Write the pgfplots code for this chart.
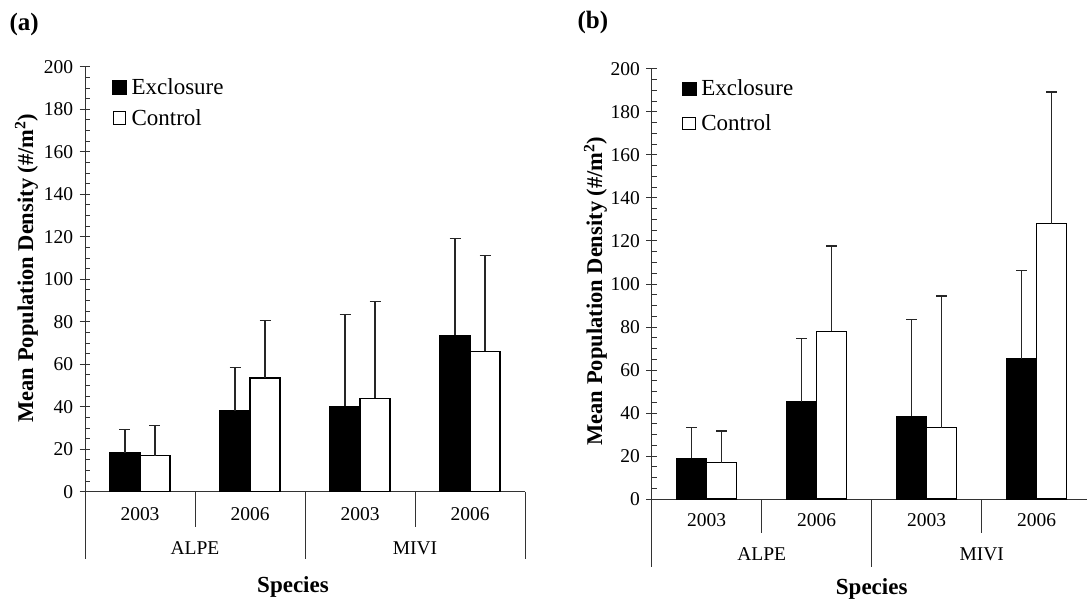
\documentclass[border=0pt]{standalone}
\usepackage{fontspec}
\setmainfont{Liberation Serif}
\usepackage{pgfplots}
\pgfplotsset{compat=1.18}
\usepackage{pgfplotstable}

% x, exclosure mean, exclosure +error, control mean, control +error
\pgfplotstableread{
x   ex    exerr co    coerr
0.5 18.4  10.8  17.0  14.2
1.5 38.2  20.3  53.5  27.2
2.5 40.1  43.4  44.0  45.5
3.5 73.6  45.7  66.1  45.1
}\dataA
\pgfplotstableread{
x   ex    exerr co    coerr
0.5 18.9  14.2  16.9  14.7
1.5 45.2  29.4  78.0  39.7
2.5 38.5  44.9  33.1  61.3
3.5 65.3  40.9  128.0 61.3
}\dataB

\tikzset{
  ticklab/.style={font=\fontsize{19.5}{19.5}\selectfont},
  sep/.style={black!80, line width=1pt},
  speclab/.style={font=\bfseries\fontsize{23}{23}\selectfont},
  ylab/.style={rotate=90, anchor=base, font=\bfseries\fontsize{22.5}{22.5}\selectfont},
  paneltitle/.style={anchor=west, font=\bfseries\fontsize{25}{25}\selectfont},
}
\pgfplotsset{
  panel/.style={
    scale only axis, width=440pt,
    xmin=0, xmax=4, ymin=0, ymax=200,
    axis lines=left, axis line style={-, black!80, line width=1pt},
    ybar=0pt, bar width=30pt,
    xtick=\empty, ytick={0,20,...,200}, minor y tick num=3,
    tick align=center, major tick length=10.5pt, minor tick length=5pt,
    every minor tick/.append style={xshift=2.5pt},
    tick style={black!80, line width=0.9pt},
    yticklabel style={font=\fontsize{19.5}{19.5}\selectfont, xshift=-3pt},
    /pgf/number format/assume math mode=true,
    clip=false, anchor=south west,
    legend style={draw=none, fill=none, at={(0,1)}, anchor=north west,
      inner sep=0pt, nodes={inner sep=0.12em},
      font=\fontsize{23}{23}\selectfont,
      /tikz/every odd column/.append style={column sep=4pt},
      cells={anchor=west}},
  },
  exbar/.style={fill=black, draw=black, line width=1.2pt,
    legend image code/.code={\filldraw[draw=black, fill=black, line width=0.6pt] (0pt,-6.6pt) rectangle (13.6pt,6.6pt);},
    error bars/.cd, y dir=plus, y explicit,
    error bar style={line width=1.3pt, black!85},
    error mark options={rotate=90, line width=1.3pt, mark size=5.5pt, black!85}},
  cobar/.style={fill=white, draw=black, line width=1.2pt,
    legend image code/.code={\filldraw[draw=black, fill=white, line width=1pt] (0.5pt,-6.3pt) rectangle (13.1pt,6.3pt);},
    error bars/.cd, y dir=plus, y explicit,
    error bar style={line width=1.3pt, black!85},
    error mark options={rotate=90, line width=1.3pt, mark size=5.5pt, black!85}},
}

\begin{document}
\begin{tikzpicture}
\useasboundingbox (0,0) rectangle (1087pt,-598pt);

% ---------------- panel (a)
\node[paneltitle] at (6pt,-24pt) {(a)};
\begin{axis}[panel, height=425pt, at={(85pt,-491.7pt)},
  legend style={xshift=27pt, yshift=-10.5pt, row sep=11pt}]
  \addplot[exbar] table[x=x, y=ex, y error=exerr] {\dataA};
  \addplot[cobar] table[x=x, y=co, y error=coerr] {\dataA};
  \legend{Exclosure, Control}
  \draw[sep] (axis cs:1,0) -- ++(0,-35pt);
  \draw[sep] (axis cs:3,0) -- ++(0,-35pt);
  \draw[sep] (axis cs:0,0) -- ++(0,-67.6pt);
  \draw[sep] (axis cs:2,0) -- ++(0,-67.6pt);
  \draw[sep] (axis cs:4,0) -- ++(0,-67.6pt);
  \node[ticklab] at ([yshift=-22pt]axis cs:0.5,0) {2003};
  \node[ticklab] at ([yshift=-22pt]axis cs:1.5,0) {2006};
  \node[ticklab] at ([yshift=-22pt]axis cs:2.5,0) {2003};
  \node[ticklab] at ([yshift=-22pt]axis cs:3.5,0) {2006};
  \node[ticklab] at ([yshift=-56.3pt]axis cs:1,0) {ALPE};
  \node[ticklab] at ([yshift=-56.3pt]axis cs:3,0) {MIVI};
  \node[speclab] at ([xshift=-12pt, yshift=-95pt]axis cs:2,0) {Species};
\end{axis}
\node[ylab] at (33pt,-268pt) {Mean Population Density (\#/m\textsuperscript{2})};

% ---------------- panel (b)
\node[paneltitle] at (574pt,-22pt) {(b)};
\begin{axis}[panel, height=430.1pt, at={(651.7pt,-499pt)},
  legend style={xshift=30pt, yshift=-9.5pt, row sep=15pt}]
  \addplot[exbar] table[x=x, y=ex, y error=exerr] {\dataB};
  \addplot[cobar] table[x=x, y=co, y error=coerr] {\dataB};
  \legend{Exclosure, Control}
  \draw[sep] (axis cs:1,0) -- ++(0,-34.3pt);
  \draw[sep] (axis cs:3,0) -- ++(0,-34.3pt);
  \draw[sep] (axis cs:0,0) -- ++(0,-68.3pt);
  \draw[sep] (axis cs:2,0) -- ++(0,-68.3pt);
  \node[ticklab] at ([yshift=-21pt]axis cs:0.5,0) {2003};
  \node[ticklab] at ([yshift=-21pt]axis cs:1.5,0) {2006};
  \node[ticklab] at ([yshift=-21pt]axis cs:2.5,0) {2003};
  \node[ticklab] at ([yshift=-21pt]axis cs:3.5,0) {2006};
  \node[ticklab] at ([yshift=-55pt]axis cs:1,0) {ALPE};
  \node[ticklab] at ([yshift=-55pt]axis cs:3,0) {MIVI};
  \node[speclab] at ([yshift=-90pt]axis cs:2,0) {Species};
\end{axis}
\node[ylab] at (602pt,-291pt) {Mean Population Density (\#/m\textsuperscript{2})};
\end{tikzpicture}
\end{document}
